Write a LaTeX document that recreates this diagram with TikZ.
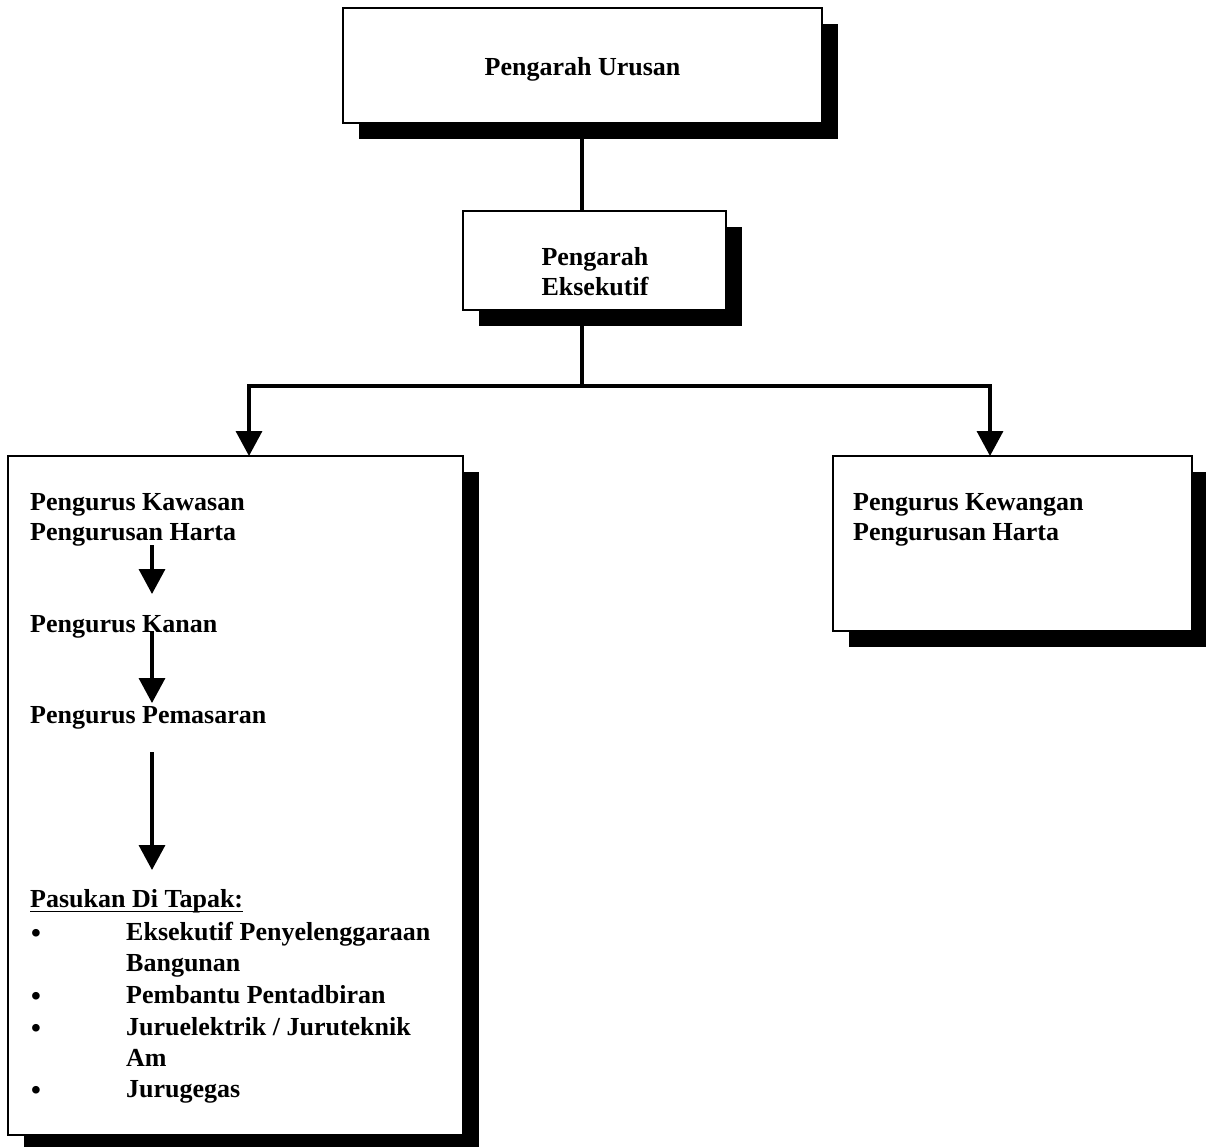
\documentclass[tikz,border=0pt]{standalone}
\usepackage{fontspec}
\setmainfont{Liberation Serif}
\usetikzlibrary{arrows.meta,shadows}
\begin{document}
\begin{tikzpicture}[x=1pt,y=-1pt,
  box/.style={rectangle,draw,line width=1.5pt,fill=white,inner sep=0pt,
    drop shadow={shadow xshift=16pt,shadow yshift=-16pt,fill=black,opacity=1}},
  lbl/.style={anchor=base west,inner sep=0pt,font=\bfseries\fontsize{26}{30}\selectfont},
  clbl/.style={lbl,anchor=base},
  dot/.style={anchor=base,inner sep=0pt,font=\bfseries\fontsize{28}{30}\selectfont,yshift=-2.5pt},
  conn/.style={line width=3.5pt},
  arr/.style={line width=3.5pt,-{Triangle[width=26pt,length=25pt]}}]
  \useasboundingbox (0,0) rectangle (1206,1146);

  % boxes
  \node[box,minimum width=479pt,minimum height=115pt] (b1) at (582.5,65.5) {};
  \node[box,minimum width=263pt,minimum height=99pt] (b2) at (594.5,260.5) {};
  \node[box,minimum width=455pt,minimum height=679pt] (b3) at (235.5,795.5) {};
  \node[box,minimum width=359pt,minimum height=175pt] (b4) at (1012.5,543.5) {};

  % box titles
  \node[clbl] (t1) at (582.5,75) {Pengarah Urusan};
  \node[clbl] (t2a) at (595,265) {Pengarah};
  \node[clbl] (t2b) at (595,295) {Eksekutif};

  % left box contents
  \node[lbl] (kaw1) at (30,510) {Pengurus Kawasan};
  \node[lbl] (kaw2) at (30,540) {Pengurusan Harta};
  \node[lbl] (kanan) at (30,632) {Pengurus Kanan};
  \node[lbl] (pem) at (30,723) {Pengurus Pemasaran};
  \node[lbl] (pas) at (30,907) {Pasukan Di Tapak:};
  \draw[line width=1.6pt] ([yshift=-4.5pt]pas.base west) -- ([yshift=-4.5pt]pas.base east);

  \node[dot] (u1) at (36,940) {•};
  \node[dot] (u2) at (36,1003) {•};
  \node[dot] (u3) at (36,1035) {•};
  \node[dot] (u4) at (36,1097) {•};
  \node[lbl] (i1a) at (126,940) {Eksekutif Penyelenggaraan};
  \node[lbl] (i1b) at (126,971) {Bangunan};
  \node[lbl] (i2) at (126,1003) {Pembantu Pentadbiran};
  \node[lbl] (i3a) at (126,1035) {Juruelektrik / Juruteknik};
  \node[lbl] (i3b) at (126,1066) {Am};
  \node[lbl] (i4) at (126,1097) {Jurugegas};

  % right box contents
  \node[lbl] (kew1) at (853,510) {Pengurus Kewangan};
  \node[lbl] (kew2) at (853,540) {Pengurusan Harta};

  % connectors between boxes
  \coordinate (j) at (582,386);
  \coordinate (p3) at (249,456);
  \coordinate (p4) at (990,456);
  \draw[conn] (b1.south -| j) -- (b2.north -| j);
  \draw[conn] (b2.south -| j) -- (j);
  \draw[arr] (j) -| (p3);
  \draw[arr] (j) -| (p4);

  % arrows inside the left box
  \coordinate (a1s) at (152,545);
  \coordinate (a1e) at (152,594);
  \coordinate (a2s) at (152,631);
  \coordinate (a2e) at (152,703);
  \coordinate (a3s) at (152,752);
  \coordinate (a3e) at (152,870);
  \draw[arr] (a1s) -- (a1e);
  \draw[arr] (a2s) -- (a2e);
  \draw[arr] (a3s) -- (a3e);
\end{tikzpicture}
\end{document}
